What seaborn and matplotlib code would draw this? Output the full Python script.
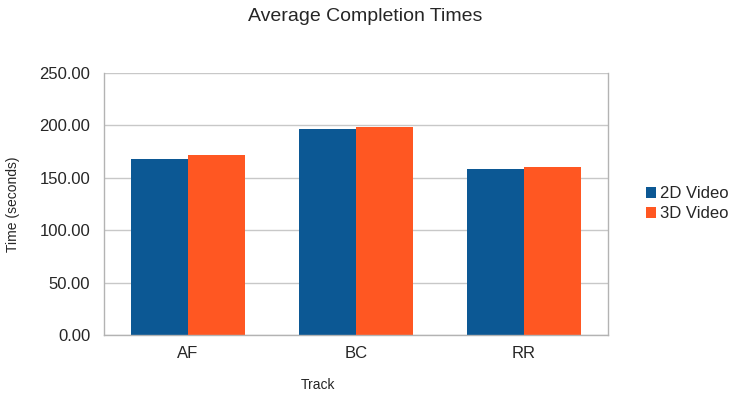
import matplotlib
matplotlib.use("Agg")
import matplotlib.pyplot as plt
import seaborn as sns
import pandas as pd
from matplotlib.ticker import FormatStrFormatter, FixedLocator

tracks = ['AF', 'BC', 'RR']
video_2d = [168.0, 196.5, 158.5]
video_3d = [172.0, 198.5, 160.5]
series = ['2D Video', '3D Video']
colors = ['#0c5894', '#ff5722']

df = pd.DataFrame({
    'Track': tracks * 2,
    'Time': video_2d + video_3d,
    'Series': [series[0]] * 3 + [series[1]] * 3,
})

sns.set_style('white')
plt.rcParams['font.family'] = ['Liberation Sans', 'DejaVu Sans']

fig = plt.figure(figsize=(7.3, 3.98), dpi=100)
ax = fig.add_axes([0.1425, 0.158, 0.6905, 0.659])

sns.barplot(data=df, x='Track', y='Time', hue='Series', order=tracks,
            hue_order=series, palette=colors, width=0.675, saturation=1,
            linewidth=0, ax=ax)

ax.set_xlim(-0.5, 2.5)
ax.set_ylim(0, 250)
ax.set_yticks([0, 50, 100, 150, 200, 250])
ax.yaxis.set_major_formatter(FormatStrFormatter('%.2f'))
ax.yaxis.grid(True, color='#c8c8c8', linewidth=1)
ax.set_axisbelow(True)
ax.tick_params(axis='y', length=8, color='#b3b3b3', labelsize=12, pad=2)
ax.tick_params(axis='x', which='major', length=0, labelsize=12, pad=8)
ax.xaxis.set_minor_locator(FixedLocator([-0.5, 0.5, 1.5, 2.5]))
ax.tick_params(axis='x', which='minor', length=6, color='#b3b3b3')
for s in ['left', 'right', 'bottom']:
    ax.spines[s].set_color('#b3b3b3')
    ax.spines[s].set_linewidth(1)
ax.spines['top'].set_visible(False)

ax.set_xlabel('')
ax.set_ylabel('Time (seconds)', fontsize=10, labelpad=14)
fig.text(0.436, 0.032, 'Track', fontsize=10, ha='center', va='center')
fig.suptitle('Average Completion Times', fontsize=14, y=0.98)

leg = ax.legend(loc='center left', bbox_to_anchor=(1.045, 0.5), frameon=False,
                fontsize=12, handlelength=0.6, handleheight=0.6,
                handletextpad=0.25, labelspacing=0.3)

fig.savefig('out.png', dpi=100)
